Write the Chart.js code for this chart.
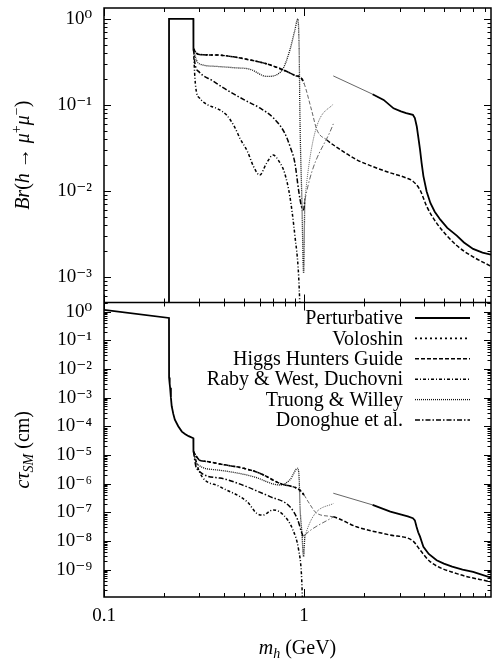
<!DOCTYPE html>
<html lang="en">
<head>
<meta charset="UTF-8">
<title>Light Higgs: Br and lifetime</title>
<style>
  html, body { margin: 0; padding: 0; background: #fff; }
  #wrap { position: relative; width: 493px; height: 661px; }
</style>
<script src="https://cdn.jsdelivr.net/npm/chart.js"></script>
</head>
<body>
<div id="wrap"><canvas id="chart" width="493" height="661"></canvas></div>
<script>
// ---- data (mass in GeV) ----
const seriesNames = ['Perturbative', 'Voloshin', 'Higgs Hunters Guide',
                     'Raby & West, Duchovni', 'Truong & Willey', 'Donoghue et al.'];

// top panel: Br(h -> mu+ mu-)
const pertM  = [0.2113, 0.2114, 0.2797, 0.2800, 0.5, 1.40, 2.2, 2.5, 2.8, 3.05, 3.24, 3.5, 3.58, 3.66, 3.72, 3.8, 3.87, 3.95, 4.1, 4.28, 4.5, 4.8, 5.2, 5.8, 6.3, 7.0, 7.8, 8.6];
const pertBr = [1e-4, 1.0, 1.0, 0.45, null, 0.217, 0.133, 0.114, 0.091, 0.084, 0.080, 0.0765, 0.070, 0.056, 0.043, 0.030, 0.021, 0.0148, 0.0098, 0.0072, 0.0057, 0.0046, 0.0037, 0.0030, 0.0025, 0.0021, 0.0019, 0.0018];

const voloM  = [0.28, 0.29, 0.30, 0.366, 0.45, 0.536, 0.65, 0.787, 0.9, 0.97, 1.0];
const voloBr = [0.45, 0.40, 0.385, 0.38, 0.36, 0.333, 0.30, 0.255, 0.22, 0.204, 0.178];

const hhgM  = [0.28, 0.29, 0.30, 0.366, 0.45, 0.536, 0.65, 0.787, 0.9, 0.97, 1.0, 1.09, 1.16, 1.30, 1.52, 1.83, 2.22, 2.69, 3.24, 3.5, 3.8, 4.1, 4.6, 5.8, 7.0, 8.6];
const hhgBr = [0.45, 0.40, 0.385, 0.38, 0.36, 0.333, 0.30, 0.255, 0.22, 0.204, 0.178, 0.087, 0.051, 0.039, 0.030, 0.023, 0.019, 0.0162, 0.0141, 0.0129, 0.0102, 0.0066, 0.0042, 0.0023, 0.0017, 0.00132];

const rabM  = [0.28, 0.285, 0.29, 0.30, 0.33, 0.37, 0.41, 0.45, 0.48, 0.52, 0.56, 0.60, 0.65, 0.70, 0.75, 0.80, 0.85, 0.90, 0.94, 0.965];
const rabBr = [0.45, 0.20, 0.14, 0.12, 0.10, 0.090, 0.076, 0.055, 0.040, 0.029, 0.019, 0.0152, 0.021, 0.026, 0.022, 0.016, 0.0085, 0.0030, 0.0010, 0.0002];

const truM  = [0.28, 0.29, 0.30, 0.366, 0.45, 0.536, 0.652, 0.73, 0.787, 0.85, 0.90, 0.93, 0.945, 0.955, 0.975, 0.995, 1.01, 1.4];
const truBr = [0.45, 0.33, 0.30, 0.28, 0.27, 0.26, 0.214, 0.224, 0.267, 0.436, 0.745, 1.0, 0.45, 0.06, 0.008, 0.0011, 0.008, 0.102];

const donM  = [0.28, 0.285, 0.30, 0.35, 0.40, 0.5, 0.6, 0.7, 0.8, 0.85, 0.9, 0.94, 0.97, 0.995, 1.01, 1.4];
const donBr = [0.45, 0.30, 0.24, 0.19, 0.155, 0.115, 0.092, 0.071, 0.047, 0.033, 0.021, 0.010, 0.0066, 0.0060, 0.0078, 0.06];

// bottom panel: c tau_SM (cm)
const pertTauM = [0.1, 0.2113, 0.2115, 0.213, 0.214, 0.216, 0.218, 0.222, 0.226, 0.235, 0.245, 0.255, 0.265, 0.2797, 0.2800, 0.5, 1.4, 2.2, 2.7, 3.3, 3.5, 3.58, 3.65, 3.72, 3.8, 3.87, 3.95, 4.2, 4.6, 5.0, 5.5, 6.2, 7.0, 8.6];
const pertTau  = [1.15, 0.6, 5e-3, 3e-3, 2.2e-3, 1e-3, 5e-4, 2.7e-4, 1.7e-4, 1e-4, 6.5e-5, 5.3e-5, 4.5e-5, 3.8e-5, 1.3e-5, null, 4.6e-7, 1.8e-7, 1.05e-7, 7.1e-8, 6.2e-8, 5.2e-8, 3.1e-8, 2.0e-8, 1.4e-8, 9.5e-9, 6.2e-9, 3.5e-9, 2.1e-9, 1.6e-9, 1.26e-9, 1.0e-9, 8.3e-10, 5.2e-10];

const voloTauM = [0.28, 0.30, 0.325, 0.4, 0.5, 0.6, 0.76, 0.95, 1.0];
const voloTau  = [1.3e-5, 6.6e-6, 5.9e-6, 4.5e-6, 3.4e-6, 2.3e-6, 1.0e-6, 6.0e-7, 4.0e-7];

const hhgTauM = [0.28, 0.30, 0.325, 0.4, 0.5, 0.6, 0.76, 0.95, 1.0, 1.05, 1.16, 1.4, 1.83, 2.69, 3.5, 3.8, 4.28, 5.8, 8.6];
const hhgTau  = [1.3e-5, 6.6e-6, 5.9e-6, 4.5e-6, 3.4e-6, 2.3e-6, 1.0e-6, 6.0e-7, 4.0e-7, 2.3e-7, 9.1e-8, 6.9e-8, 3.1e-8, 1.6e-8, 1.0e-8, 4.8e-9, 1.86e-9, 7.2e-10, 3.7e-10];

const rabTauM = [0.28, 0.302, 0.38, 0.52, 0.58, 0.62, 0.70, 0.79, 0.88, 0.94, 0.97, 0.985];
const rabTau  = [1.3e-5, 2.3e-6, 7.8e-7, 2.3e-7, 9.1e-8, 7.9e-8, 1.2e-7, 7.9e-8, 2.4e-8, 4.8e-9, 7.2e-10, 5e-11];

const truTauM = [0.28, 0.29, 0.366, 0.55, 0.76, 0.85, 0.93, 0.945, 0.955, 0.975, 0.995, 1.01, 1.4];
const truTau  = [1.3e-5, 5.1e-6, 3.0e-6, 1.8e-6, 8.9e-7, 1.35e-6, 3.4e-6, 1.5e-6, 1.5e-7, 2e-8, 2.8e-9, 1.4e-8, 2.0e-7];

const donTauM = [0.28, 0.29, 0.38, 0.517, 0.6, 0.676, 0.85, 0.93, 0.97, 0.995, 1.01, 1.4];
const donTau  = [1.3e-5, 3.4e-6, 1.55e-6, 7.8e-7, 5.0e-7, 3.5e-7, 1.55e-7, 5.4e-8, 2.1e-8, 1.4e-8, 1.6e-8, 6.9e-8];

// tick labels
const massTicks = [0.1, 1];
const brTicks   = [1, 1e-1, 1e-2, 1e-3];
const tauTicks  = [1, 1e-1, 1e-2, 1e-3, 1e-4, 1e-5, 1e-6, 1e-7, 1e-8, 1e-9];

// ---- styles ----
const FONT = '"Liberation Serif", "DejaVu Serif", serif';
const styles = {
  'Perturbative':          { dash: [],             width: 1.8, color: '#000', thinUntil: 2.21, curve: 'default' },
  'Voloshin':              { dash: [2, 3],         width: 1.6, color: '#000', thinUntil: 1.45, curve: 'monotone' },
  'Higgs Hunters Guide':   { dash: [4, 2],         width: 1.5, color: '#000', thinUntil: 1.45, curve: 'monotone' },
  'Raby & West, Duchovni': { dash: [3, 2, 1, 2],   width: 1.5, color: '#000', thinUntil: 1.45, curve: 'monotone' },
  'Truong & Willey':       { dash: [1, 1],         width: 1.3, color: '#111', thinUntil: 1.45, curve: 'monotone' },
  'Donoghue et al.':       { dash: [5, 2, 1.5, 2], width: 1.5, color: '#000', thinUntil: 1.45, curve: 'monotone' }
};

function pts(ms, vs) { return ms.map((m, i) => ({ x: m, y: vs[i] })); }

function makeSet(name, ms, vs, axis) {
  const s = styles[name];
  const thin = ctx => ctx.p0.parsed.x >= 0.999 && ctx.p1.parsed.x <= s.thinUntil;
  return {
    label: name,
    data: pts(ms, vs),
    yAxisID: axis,
    borderColor: s.color,
    borderWidth: s.width,
    borderDash: s.dash,
    pointRadius: 0,
    fill: false,
    spanGaps: false,
    tension: 0,
    cubicInterpolationMode: s.curve,
    segment: {
      borderWidth: ctx => thin(ctx) ? 0.9 : undefined,
      borderColor: ctx => thin(ctx) ? '#555' : undefined
    }
  };
}

const datasets = [
  makeSet('Perturbative', pertM, pertBr, 'yTop'),
  makeSet('Voloshin', voloM, voloBr, 'yTop'),
  makeSet('Higgs Hunters Guide', hhgM, hhgBr, 'yTop'),
  makeSet('Raby & West, Duchovni', rabM, rabBr, 'yTop'),
  makeSet('Truong & Willey', truM, truBr, 'yTop'),
  makeSet('Donoghue et al.', donM, donBr, 'yTop'),
  makeSet('Perturbative', pertTauM, pertTau, 'yBot'),
  makeSet('Voloshin', voloTauM, voloTau, 'yBot'),
  makeSet('Higgs Hunters Guide', hhgTauM, hhgTau, 'yBot'),
  makeSet('Raby & West, Duchovni', rabTauM, rabTau, 'yBot'),
  makeSet('Truong & Willey', truTauM, truTau, 'yBot'),
  makeSet('Donoghue et al.', donTauM, donTau, 'yBot')
];

const supMap = { '-': '⁻', '0': '⁰', '1': '¹', '2': '²', '3': '³', '4': '⁴', '5': '⁵', '6': '⁶', '7': '⁷', '8': '⁸', '9': '⁹' };
function powLabel(v) {
  const e = Math.round(Math.log10(v));
  return '10' + String(e).split('').map(c => supMap[c]).join('');
}
function isIn(list, v) { return list.some(t => Math.abs(v / t - 1) < 1e-6); }

// draw text made of italic / upright / sub / sup pieces
function richText(ctx, parts, cx, cy, angle, size) {
  const fontOf = p => (p.it ? 'italic ' : '') + Math.round((p.sup || p.sub) ? size * 0.7 : size) + 'px ' + FONT;
  let total = 0;
  const widths = parts.map(p => { ctx.font = fontOf(p); const w = ctx.measureText(p.t).width; total += w; return w; });
  ctx.save();
  ctx.translate(cx, cy);
  ctx.rotate(angle);
  ctx.fillStyle = '#000';
  ctx.textBaseline = 'alphabetic';
  ctx.textAlign = 'left';
  let xx = -total / 2;
  const base = size * 0.33;
  parts.forEach((p, i) => {
    ctx.font = fontOf(p);
    const dy = p.sup ? -size * 0.4 : (p.sub ? size * 0.22 : 0);
    ctx.fillText(p.t, xx, base + dy);
    xx += widths[i];
  });
  ctx.restore();
}

// keep each dataset inside its own panel
const panelClip = {
  id: 'panelClip',
  beforeDatasetDraw(chart, args) {
    const y = chart.scales[args.meta.yAxisID];
    const x = chart.scales.x;
    const ctx = chart.ctx;
    ctx.save();
    ctx.beginPath();
    ctx.rect(x.left, y.top, x.right - x.left, y.bottom - y.top);
    ctx.clip();
  },
  afterDatasetDraw(chart) { chart.ctx.restore(); }
};

// frame, inward ticks, axis titles and legend
const decor = {
  id: 'decor',
  afterDraw(chart) {
    const { ctx } = chart;
    const x = chart.scales.x, yTop = chart.scales.yTop, yBot = chart.scales.yBot;
    ctx.save();
    ctx.strokeStyle = '#000';
    ctx.lineWidth = 1.5;
    ctx.setLineDash([]);
    ctx.strokeRect(x.left, yTop.top, x.right - x.left, yBot.bottom - yTop.top);
    ctx.beginPath();
    ctx.moveTo(x.left, yTop.bottom);
    ctx.lineTo(x.right, yTop.bottom);
    ctx.stroke();

    ctx.lineWidth = 1;
    ctx.beginPath();
    // x ticks on every panel edge
    for (let e = -1; e <= 1; e++) {
      for (let k = 1; k <= 9; k++) {
        const v = k * Math.pow(10, e);
        if (v < x.min || v > x.max) continue;
        const px = Math.round(x.getPixelForValue(v)) + 0.5;
        const len = k === 1 ? 8 : 4;
        [yTop, yBot].forEach(s => {
          ctx.moveTo(px, s.top); ctx.lineTo(px, s.top + len);
          ctx.moveTo(px, s.bottom); ctx.lineTo(px, s.bottom - len);
        });
      }
    }
    // y ticks, left and right
    [yTop, yBot].forEach(s => {
      const e0 = Math.floor(Math.log10(s.min)), e1 = Math.ceil(Math.log10(s.max));
      for (let e = e0; e <= e1; e++) {
        for (let k = 1; k <= 9; k++) {
          const v = k * Math.pow(10, e);
          if (v < s.min || v > s.max) continue;
          const py = Math.round(s.getPixelForValue(v)) + 0.5;
          const len = k === 1 ? 7 : 3.5;
          ctx.moveTo(x.left, py); ctx.lineTo(x.left + len, py);
          ctx.moveTo(x.right, py); ctx.lineTo(x.right - len, py);
        }
      }
    });
    ctx.stroke();

    // axis titles
    richText(ctx, [{ t: 'Br', it: 1 }, { t: '(' }, { t: 'h', it: 1 }, { t: ' → ' }, { t: 'μ', it: 1 }, { t: '+', sup: 1 },
                   { t: 'μ', it: 1 }, { t: '−', sup: 1 }, { t: ')' }],
             22, (yTop.top + yTop.bottom) / 2, -Math.PI / 2, 20);
    richText(ctx, [{ t: 'cτ', it: 1 }, { t: 'SM', it: 1, sub: 1 }, { t: ' (cm)' }],
             22, (yBot.top + yBot.bottom) / 2, -Math.PI / 2, 20);
    richText(ctx, [{ t: 'm', it: 1 }, { t: 'h', it: 1, sub: 1 }, { t: ' (GeV)' }],
             (x.left + x.right) / 2, 647, 0, 20);

    // legend inside the lower panel
    const textRight = x.right - 88, lineL = x.right - 76, lineR = x.right - 21;
    seriesNames.forEach((name, i) => {
      const s = styles[name];
      const py = yBot.top + 15.5 + i * 20.4;
      ctx.font = '20px ' + FONT;
      ctx.fillStyle = '#000';
      ctx.textAlign = 'right';
      ctx.textBaseline = 'middle';
      ctx.fillText(name, textRight, py + 1);
      ctx.beginPath();
      ctx.strokeStyle = s.color;
      ctx.lineWidth = s.width;
      ctx.setLineDash(s.dash);
      ctx.moveTo(lineL, py);
      ctx.lineTo(lineR, py);
      ctx.stroke();
    });
    ctx.restore();
  }
};

Chart.defaults.font.family = FONT;
Chart.defaults.color = '#000';

function fixY(s) { s.width = 104; s.paddingTop = 0; s.paddingBottom = 0; }
function fixX(s) { s.height = 64; s.paddingLeft = 0; s.paddingRight = 0; }

const yCommon = {
  type: 'logarithmic',
  position: 'left',
  stack: 'panels',
  stackWeight: 1,
  grid: { display: false, drawTicks: false },
  border: { display: false },
  title: { display: false },
  afterFit: fixY
};

new Chart(document.getElementById('chart'), {
  type: 'line',
  data: { datasets: datasets },
  options: {
    responsive: false,
    animation: false,
    layout: { padding: { top: 8, right: 2, left: 0, bottom: 0 } },
    plugins: { legend: { display: false }, tooltip: { enabled: false } },
    scales: {
      x: {
        type: 'logarithmic',
        min: 0.1,
        max: 8.6,
        grid: { display: false, drawTicks: false },
        border: { display: false },
        ticks: {
          autoSkip: false,
          maxRotation: 0,
          padding: 8,
          font: { size: 19 },
          callback: v => isIn(massTicks, v) ? String(massTicks.find(t => Math.abs(v / t - 1) < 1e-6)) : ''
        },
        afterFit: fixX
      },
      yTop: Object.assign({}, yCommon, {
        min: 5e-4,
        max: 1.34,
        weight: 1,
        ticks: { autoSkip: false, padding: 12, font: { size: 19 }, callback: v => isIn(brTicks, v) ? powLabel(v) : '' }
      }),
      yBot: Object.assign({}, yCommon, {
        min: 1.1e-10,
        max: 2.08,
        weight: 0,
        ticks: { autoSkip: false, padding: 12, font: { size: 19 }, callback: v => isIn(tauTicks, v) ? powLabel(v) : '' }
      })
    }
  },
  plugins: [panelClip, decor]
});
</script>
</body>
</html>
